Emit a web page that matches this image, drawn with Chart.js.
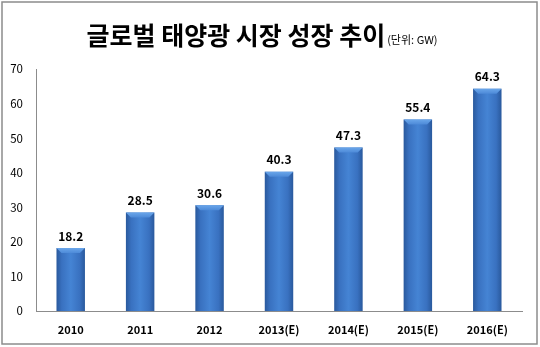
<!DOCTYPE html>
<html>
<head>
<meta charset="utf-8">
<script src="https://cdn.jsdelivr.net/npm/chart.js@4"></script>
<style>
  html, body { margin: 0; padding: 0; background: #fff; }
  #wrap { position: relative; width: 540px; height: 347px; }
  canvas { display: block; }
</style>
</head>
<body>
<div id="wrap"><canvas id="c" width="540" height="347"></canvas></div>
<script>
const years = ['2010', '2011', '2012', '2013(E)', '2014(E)', '2015(E)', '2016(E)'];
const capacityGW = [18.2, 28.5, 30.6, 40.3, 47.3, 55.4, 64.3];
const yTicks = [0, 10, 20, 30, 40, 50, 60, 70];
const titleText = '글로벌 태양광 시장 성장 추이';
const unitText = '(단위: GW)';

const KFONT = '"Malgun Gothic", "Noto Sans CJK KR", "Noto Sans", sans-serif';

// Cylinder-like horizontal shading for each bar
function barFill(ctx) {
  const chart = ctx.chart;
  const xs = chart.scales.x;
  if (!xs || !chart.chartArea || ctx.dataIndex === undefined) return '#3f7bcc';
  const cx = xs.getPixelForValue(ctx.dataIndex);
  const half = 14;
  const g = chart.ctx.createLinearGradient(cx - half, 0, cx + half, 0);
  g.addColorStop(0, '#2a5a9e');
  g.addColorStop(0.18, '#3971c0');
  g.addColorStop(0.5, '#4584d4');
  g.addColorStop(0.82, '#3971c0');
  g.addColorStop(1, '#2a5a9e');
  return g;
}

// Bevelled top edge plus value labels above each bar
const barDecor = {
  id: 'barDecor',
  afterDatasetsDraw(chart) {
    const ctx = chart.ctx;
    const meta = chart.getDatasetMeta(0);
    meta.data.forEach((bar, i) => {
      const { x, y, width } = bar.getProps(['x', 'y', 'width'], true);
      const l = x - width / 2, r = x + width / 2, b = 5;
      ctx.save();
      const g = ctx.createLinearGradient(0, y, 0, y + b);
      g.addColorStop(0, '#6aa6ea');
      g.addColorStop(1, '#4d8ad8');
      ctx.fillStyle = g;
      ctx.beginPath();
      ctx.moveTo(l, y);
      ctx.lineTo(r, y);
      ctx.lineTo(r - b, y + b);
      ctx.lineTo(l + b, y + b);
      ctx.closePath();
      ctx.fill();
      ctx.fillStyle = '#000';
      ctx.font = 'bold 12px ' + KFONT;
      ctx.textAlign = 'center';
      ctx.textBaseline = 'middle';
      ctx.fillText(capacityGW[i].toFixed(1), x, y - 12);
      ctx.restore();
    });
  }
};

// Heading with unit note and the outer frame
const frame = {
  id: 'frame',
  afterDraw(chart) {
    const ctx = chart.ctx;
    ctx.save();
    ctx.strokeStyle = '#8c8c8c';
    ctx.lineWidth = 1.5;
    ctx.strokeRect(2, 2, 535, 342);
    ctx.fillStyle = '#000';
    ctx.textBaseline = 'alphabetic';
    ctx.font = 'bold 25px ' + KFONT;
    const tw = ctx.measureText(titleText).width;
    ctx.font = '11px ' + KFONT;
    const uw = ctx.measureText(unitText).width;
    const startX = 262 - (tw + uw + 2) / 2;
    ctx.font = 'bold 25px ' + KFONT;
    ctx.textAlign = 'left';
    ctx.fillText(titleText, startX, 45);
    ctx.font = '11px ' + KFONT;
    ctx.fillText(unitText, startX + tw + 2, 44);
    ctx.restore();
  }
};

new Chart(document.getElementById('c'), {
  type: 'bar',
  data: {
    labels: years,
    datasets: [{
      data: capacityGW,
      backgroundColor: barFill,
      borderWidth: 0,
      categoryPercentage: 1,
      barPercentage: 0.41
    }]
  },
  options: {
    responsive: false,
    animation: false,
    devicePixelRatio: 1,
    layout: { padding: { top: 69, right: 18, bottom: 0, left: 0 } },
    plugins: { legend: { display: false }, tooltip: { enabled: false } },
    scales: {
      x: {
        grid: { display: false, drawTicks: false },
        border: { display: true, color: '#8c8c8c', width: 1 },
        ticks: {
          color: '#000',
          font: { family: KFONT, size: 11, weight: 'bold' },
          padding: 12,
          maxRotation: 0
        },
        afterFit(s) { s.height = 36; }
      },
      y: {
        min: 0,
        max: 70,
        grid: { display: false, drawTicks: false },
        border: { display: true, color: '#8c8c8c', width: 1 },
        afterBuildTicks(s) { s.ticks = yTicks.map(v => ({ value: v })); },
        ticks: {
          color: '#000',
          font: { family: KFONT, size: 11.5 },
          padding: 13
        },
        afterFit(s) { s.width = 36; }
      }
    }
  },
  plugins: [barDecor, frame]
});
</script>
</body>
</html>
